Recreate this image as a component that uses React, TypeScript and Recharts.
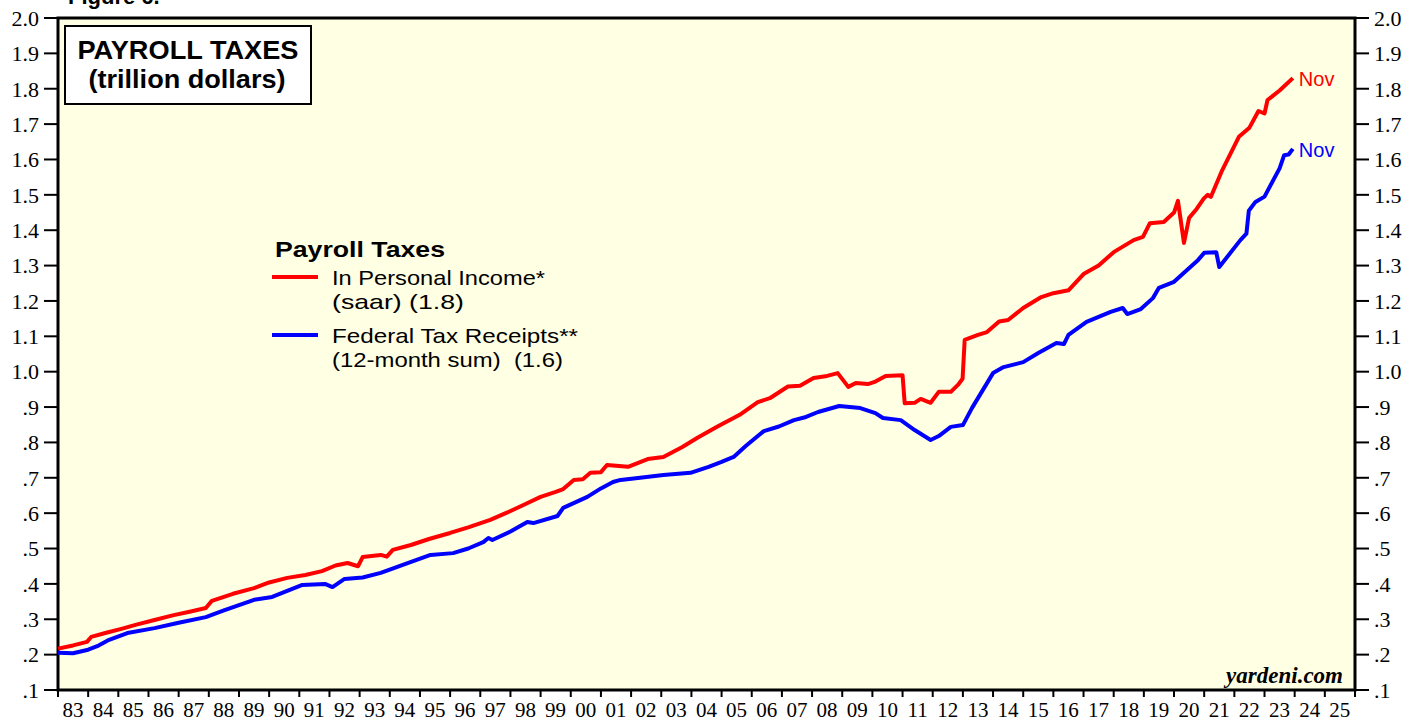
import { LineChart, Line, XAxis, YAxis, CartesianGrid, ReferenceArea } from 'recharts'

// Payroll taxes, trillion dollars (decimal years)
const RED_YEARS = [
  1983.0, 1983.5, 1983.96, 1984.1, 1984.6, 1985.1, 1985.6, 1986.2, 1986.8, 1987.4, 1987.9, 1988.1,
  1988.8, 1989.5, 1990.0, 1990.6, 1991.2, 1991.75, 1992.2, 1992.6, 1992.95, 1993.1, 1993.7, 1993.9,
  1994.1, 1994.7, 1995.3, 1996.0, 1996.6, 1997.33, 1997.9, 1998.5, 1999.0, 1999.5, 1999.75, 2000.1,
  2000.4, 2000.65, 2001.0, 2001.2, 2001.9, 2002.55, 2003.07, 2003.7, 2004.2, 2004.85, 2005.6, 2006.2,
  2006.6, 2007.2, 2007.6, 2008.05, 2008.5, 2008.85, 2009.2, 2009.45, 2009.85, 2010.1, 2010.44, 2011.0,
  2011.07, 2011.4, 2011.6, 2011.93, 2012.2, 2012.6, 2012.86, 2012.99, 2013.06, 2013.5, 2013.8, 2014.2,
  2014.5, 2015.0, 2015.6, 2016.0, 2016.5, 2017.0, 2017.5, 2018.0, 2018.66, 2018.97, 2019.2, 2019.66,
  2020.0, 2020.13, 2020.33, 2020.5, 2020.75, 2020.99, 2021.12, 2021.22, 2021.6, 2022.15, 2022.5,
  2022.8, 2023.0, 2023.1, 2023.5, 2023.94,
]
const RED_VALUES = [
  0.217, 0.226, 0.236, 0.25, 0.262, 0.273, 0.285, 0.298, 0.311, 0.322, 0.332, 0.352,
  0.372, 0.388, 0.404, 0.417, 0.425, 0.436, 0.452, 0.459, 0.45, 0.476, 0.482, 0.477,
  0.496, 0.51, 0.527, 0.544, 0.56, 0.581, 0.602, 0.626, 0.646, 0.66, 0.668, 0.694,
  0.696, 0.714, 0.716, 0.736, 0.731, 0.753, 0.759, 0.787, 0.813, 0.844, 0.878, 0.914,
  0.925, 0.958, 0.96, 0.982, 0.988, 0.996, 0.957, 0.968, 0.965, 0.972, 0.988, 0.99,
  0.911, 0.912, 0.923, 0.912, 0.943, 0.943, 0.965, 0.98, 1.09, 1.104, 1.112, 1.142,
  1.146, 1.18, 1.211, 1.222, 1.23, 1.276, 1.3, 1.338, 1.372, 1.381, 1.42, 1.423,
  1.45, 1.483, 1.364, 1.435, 1.46, 1.49, 1.5, 1.494, 1.57, 1.664, 1.69,
  1.737, 1.73, 1.768, 1.795, 1.83,
]

const BLUE_YEARS = [
  1983.0, 1983.5, 1984.0, 1984.3, 1984.65, 1985.3, 1986.2, 1987.0, 1987.9, 1988.5, 1989.0, 1989.5,
  1990.1, 1990.6, 1991.1, 1991.85, 1992.1, 1992.5, 1993.1, 1993.7, 1994.5, 1995.35, 1996.1, 1996.6,
  1997.1, 1997.27, 1997.4, 1998.0, 1998.56, 1998.76, 1999.56, 1999.75, 2000.55, 2001.0, 2001.4, 2001.65,
  2002.3, 2003.07, 2003.97, 2004.57, 2005.0, 2005.4, 2005.8, 2006.4, 2006.9, 2007.4, 2007.8, 2008.2,
  2008.9, 2009.6, 2010.1, 2010.35, 2010.94, 2011.4, 2011.93, 2012.2, 2012.6, 2013.0, 2013.3, 2014.0,
  2014.35, 2015.0, 2015.5, 2016.1, 2016.35, 2016.5, 2017.1, 2017.9, 2018.3, 2018.45, 2018.9, 2019.3,
  2019.5, 2020.0, 2020.8, 2021.0, 2021.4, 2021.5, 2022.2, 2022.4, 2022.48, 2022.7, 2023.0, 2023.5,
  2023.65, 2023.8, 2023.94,
]
const BLUE_VALUES = [
  0.205, 0.204, 0.214, 0.224, 0.24, 0.261, 0.275, 0.29, 0.306, 0.325, 0.34, 0.355,
  0.363, 0.38, 0.397, 0.4, 0.391, 0.414, 0.418, 0.431, 0.456, 0.482, 0.487, 0.5,
  0.518, 0.53, 0.524, 0.548, 0.575, 0.572, 0.592, 0.615, 0.646, 0.67, 0.688, 0.694,
  0.7, 0.708, 0.714, 0.731, 0.745, 0.759, 0.79, 0.832, 0.845, 0.863, 0.872, 0.886,
  0.903, 0.897, 0.883, 0.869, 0.863, 0.835, 0.807, 0.818, 0.844, 0.849, 0.897, 0.996,
  1.013, 1.027, 1.053, 1.081, 1.078, 1.104, 1.141, 1.169, 1.18, 1.163, 1.177, 1.208,
  1.237, 1.254, 1.316, 1.336, 1.338, 1.296, 1.372, 1.39, 1.455, 1.48, 1.495, 1.575,
  1.612, 1.614, 1.63,
]

const Y_TICKS = [0.1, 0.2, 0.3, 0.4, 0.5, 0.6, 0.7, 0.8, 0.9, 1.0, 1.1, 1.2, 1.3, 1.4, 1.5, 1.6, 1.7, 1.8, 1.9, 2.0]
const X_TICKS = [
  1983, 1984, 1985, 1986, 1987, 1988, 1989, 1990, 1991, 1992, 1993, 1994, 1995, 1996, 1997,
  1998, 1999, 2000, 2001, 2002, 2003, 2004, 2005, 2006, 2007, 2008, 2009, 2010, 2011, 2012,
  2013, 2014, 2015, 2016, 2017, 2018, 2019, 2020, 2021, 2022, 2023, 2024, 2025, 2026,
]

const SERIF = '"Liberation Serif", "Times New Roman", serif'
const SANS = '"Liberation Sans", Arial, sans-serif'
const RED = '#ff0000'
const BLUE = '#0000ff'

const redData = RED_YEARS.map((x, i) => ({ x, v: RED_VALUES[i] }))
const blueData = BLUE_YEARS.map((x, i) => ({ x, v: BLUE_VALUES[i] }))

// 2.0 ... 1.0 keep the leading digit, below 1 the chart writes ".9", ".8" etc.
function yLabel(v: number): string {
  if (v >= 1) return v.toFixed(1)
  return '.' + Math.round(v * 10)
}

// year labels sit between tick marks, the last tick (2026) has none
function XTick(props: any) {
  const { x, y, payload } = props
  if (payload.value >= 2026) return null
  return (
    <text x={x + 15} y={y + 18} textAnchor="middle" fontFamily={SERIF} fontSize={21} fill="#000">
      {String(payload.value % 100).padStart(2, '0')}
    </text>
  )
}

// "Nov" tag at the last point of each line
function novLabel(lastIndex: number, color: string) {
  return (props: any) => {
    if (props.index !== lastIndex) return null
    return (
      <text x={props.x + 6} y={props.y + 8} fontFamily={SANS} fontSize={20} fill={color}>
        Nov
      </text>
    )
  }
}

export default function App() {
  return (
    <div style={{ position: 'absolute', left: 0, top: 0, width: 1419, height: 721, background: '#fff' }}>
      <LineChart width={1419} height={721} margin={{ top: 18, right: 0, bottom: 0, left: 0 }}>
        <CartesianGrid yAxisId="left" horizontal={false} vertical={false} fill="#ffffe3" />
        <XAxis
          dataKey="x"
          type="number"
          domain={[1983, 2026]}
          ticks={X_TICKS}
          interval={0}
          height={31}
          axisLine={false}
          tickSize={7}
          tickLine={{ stroke: '#000', strokeWidth: 2 }}
          tick={<XTick />}
          allowDuplicatedCategory={false}
        />
        <YAxis
          yAxisId="left"
          orientation="left"
          type="number"
          domain={[0.1, 2.0]}
          ticks={Y_TICKS}
          interval={0}
          width={58}
          axisLine={false}
          tickSize={14}
          tickMargin={5}
          tickLine={{ stroke: '#000', strokeWidth: 2 }}
          tickFormatter={yLabel}
          tick={{ fill: '#000', fontFamily: SERIF, fontSize: 22 }}
        />
        <YAxis
          yAxisId="right"
          orientation="right"
          type="number"
          domain={[0.1, 2.0]}
          ticks={Y_TICKS}
          interval={0}
          width={64}
          axisLine={false}
          tickSize={14}
          tickMargin={5}
          tickLine={{ stroke: '#000', strokeWidth: 2 }}
          tickFormatter={yLabel}
          tick={{ fill: '#000', fontFamily: SERIF, fontSize: 22 }}
        />
        <Line
          yAxisId="left"
          data={redData}
          dataKey="v"
          type="linear"
          stroke={RED}
          strokeWidth={4}
          strokeLinejoin="round"
          dot={false}
          isAnimationActive={false}
          label={novLabel(redData.length - 1, RED)}
        />
        {/* both axes share the same scale; the blue series is bound to the right one so it draws */}
        <Line
          yAxisId="right"
          data={blueData}
          dataKey="v"
          type="linear"
          stroke={BLUE}
          strokeWidth={4}
          strokeLinejoin="round"
          dot={false}
          isAnimationActive={false}
          label={novLabel(blueData.length - 1, BLUE)}
        />
        <ReferenceArea
          yAxisId="left"
          x1={1983}
          x2={2026}
          y1={0.1}
          y2={2.0}
          fill="none"
          fillOpacity={0}
          stroke="#000"
          strokeWidth={3}
          ifOverflow="extendDomain"
        />
      </LineChart>

      <svg width={1419} height={721} style={{ position: 'absolute', left: 0, top: 0, pointerEvents: 'none' }}>
        <text x={68} y={4} fontFamily={SANS} fontWeight="bold" fontSize={22} fill="#000">Figure 6.</text>

        <rect x={65} y={26} width={246} height={78} fill="#fff" stroke="#000" strokeWidth={2} />
        <text x={188} y={59} textAnchor="middle" fontFamily={SANS} fontWeight="bold" fontSize={25}
          textLength={221} lengthAdjust="spacingAndGlyphs" fill="#000">
          PAYROLL TAXES
        </text>
        <text x={187} y={88} textAnchor="middle" fontFamily={SANS} fontWeight="bold" fontSize={25}
          textLength={197} lengthAdjust="spacingAndGlyphs" fill="#000">
          (trillion dollars)
        </text>

        <text x={275} y={257} fontFamily={SANS} fontWeight="bold" fontSize={22}
          textLength={170} lengthAdjust="spacingAndGlyphs" fill="#000">Payroll Taxes</text>
        <line x1={272} y1={277} x2={318} y2={277} stroke={RED} strokeWidth={4} />
        <text x={332} y={285} fontFamily={SANS} fontSize={21}
          textLength={213} lengthAdjust="spacingAndGlyphs" fill="#000">In Personal Income*</text>
        <text x={332} y={309} fontFamily={SANS} fontSize={21}
          textLength={132} lengthAdjust="spacingAndGlyphs" fill="#000">(saar) (1.8)</text>
        <line x1={272} y1={335} x2={318} y2={335} stroke={BLUE} strokeWidth={4} />
        <text x={332} y={343} fontFamily={SANS} fontSize={21}
          textLength={246} lengthAdjust="spacingAndGlyphs" fill="#000">Federal Tax Receipts**</text>
        <text x={332} y={367} fontFamily={SANS} fontSize={21}
          textLength={231} lengthAdjust="spacingAndGlyphs" fill="#000" style={{ whiteSpace: 'pre' }}>
          {'(12-month sum)  (1.6)'}
        </text>

        <text x={1343} y={683} textAnchor="end" fontFamily={SERIF} fontWeight="bold" fontStyle="italic" fontSize={23} fill="#000">
          yardeni.com
        </text>
      </svg>
    </div>
  )
}
